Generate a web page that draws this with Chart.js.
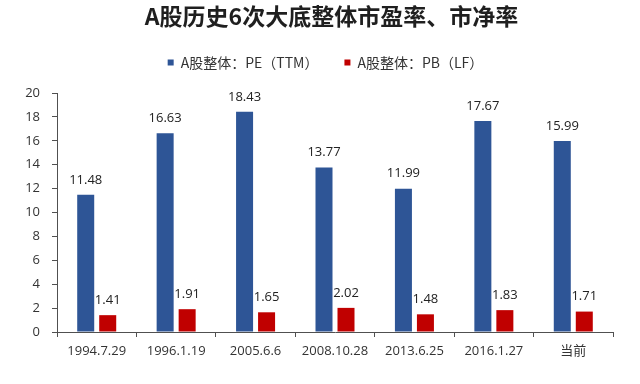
<!DOCTYPE html>
<html>
<head>
<meta charset="utf-8">
<script src="https://cdn.jsdelivr.net/npm/chart.js@4"></script>
<style>
  html, body { margin: 0; padding: 0; background: #ffffff; }
  #wrap { width: 640px; height: 384px; }
</style>
</head>
<body>
<div id="wrap"><canvas id="c" width="640" height="384"></canvas></div>
<script>
const titleText = "A股历史6次大底整体市盈率、市净率";
const categories = ["1994.7.29", "1996.1.19", "2005.6.6", "2008.10.28", "2013.6.25", "2016.1.27", "当前"];
const seriesNames = ["A股整体：PE（TTM）", "A股整体：PB（LF）"];
const peValues = [11.48, 16.63, 18.43, 13.77, 11.99, 17.67, 15.99];
const pbValues = [1.41, 1.91, 1.65, 2.02, 1.48, 1.83, 1.71];
const yMin = 0, yMax = 20, yStep = 2;

const BLUE = "#2E5596";
const RED = "#C00000";
const AXIS = "#505050";
const numFont = "'Open Sans', 'Liberation Sans', 'Noto Sans CJK SC', sans-serif";
const cjkFont = "'Noto Sans CJK SC', 'Open Sans', sans-serif";

const valueLabels = {
  id: "valueLabels",
  afterDatasetsDraw(chart) {
    const ctx = chart.ctx;
    ctx.save();
    ctx.font = "13px " + numFont;
    ctx.fillStyle = "#222222";
    ctx.textAlign = "center";
    ctx.textBaseline = "middle";
    chart.data.datasets.forEach((ds, di) => {
      const meta = chart.getDatasetMeta(di);
      meta.data.forEach((el, i) => {
        ctx.fillText(ds.data[i].toFixed(2), el.x, el.y - 15);
      });
    });
    ctx.restore();
  }
};

// shift the centred title / legend a little to the right, as in the reference
const shiftBlocks = {
  id: "shiftBlocks",
  afterLayout(chart) {
    if (chart.titleBlock) { chart.titleBlock.left += 25; chart.titleBlock.right += 25; }
    if (chart.legend) { chart.legend.left += 19; chart.legend.right += 19; }
  }
};

new Chart(document.getElementById("c"), {
  type: "bar",
  data: {
    labels: categories,
    datasets: [
      { label: seriesNames[0], data: peValues, backgroundColor: BLUE, borderWidth: 0,
        categoryPercentage: 0.554, barPercentage: 0.773 },
      { label: seriesNames[1], data: pbValues, backgroundColor: RED, borderWidth: 0,
        categoryPercentage: 0.554, barPercentage: 0.773 }
    ]
  },
  options: {
    responsive: false,
    animation: false,
    devicePixelRatio: 1,
    layout: { padding: { top: 0, left: 0, right: 27, bottom: 0 } },
    plugins: {
      title: {
        display: true,
        text: titleText,
        color: "#1f1f1f",
        font: { family: cjkFont, size: 23, weight: "bold", lineHeight: 1.2 },
        padding: { top: 2, bottom: 0 }
      },
      legend: {
        display: true,
        position: "top",
        weight: 1000,
        labels: {
          boxWidth: 6,
          boxHeight: 6,
          padding: 26,
          color: "#333333",
          font: { family: cjkFont, size: 14 }
        }
      },
      subtitle: {
        display: true,
        text: "",
        weight: 500,
        font: { size: 1, lineHeight: 1 },
        padding: { top: 0, bottom: 12.5 }
      },
      tooltip: { enabled: false }
    },
    scales: {
      x: {
        offset: true,
        grid: { display: true, drawOnChartArea: false, drawTicks: true, tickLength: 5, color: AXIS, offset: true },
        border: { display: true, color: AXIS, width: 1 },
        ticks: { color: "#333333", font: { family: numFont, size: 13 }, padding: 6, maxRotation: 0, autoSkip: false },
        afterFit(scale) { scale.height = 52; }
      },
      y: {
        min: yMin,
        max: yMax,
        grid: { display: true, drawOnChartArea: false, drawTicks: true, tickLength: 5, color: AXIS },
        border: { display: true, color: AXIS, width: 1 },
        ticks: { stepSize: yStep, color: "#333333", font: { family: numFont, size: 13 }, padding: 12 },
        afterFit(scale) { scale.width = 57; }
      }
    }
  },
  plugins: [valueLabels, shiftBlocks]
});
</script>
</body>
</html>
